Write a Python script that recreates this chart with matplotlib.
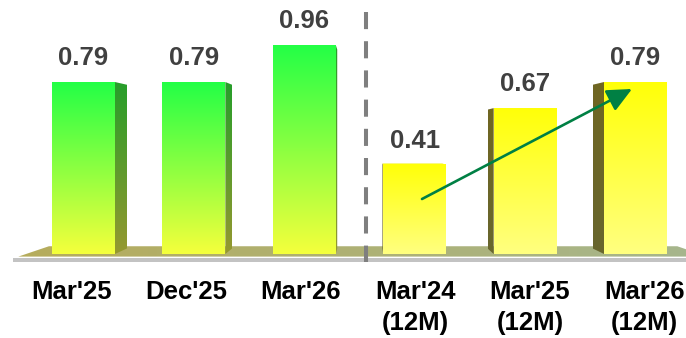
import numpy as np
import matplotlib
matplotlib.use('Agg')
import matplotlib.pyplot as plt
from matplotlib.patches import Polygon, Rectangle

# ---------------- data ----------------
categories = ["Mar'25", "Dec'25", "Mar'26", "Mar'24\n(12M)", "Mar'25\n(12M)", "Mar'26\n(12M)"]
values = [0.79, 0.79, 0.96, 0.41, 0.67, 0.79]
value_labels = ["0.79", "0.79", "0.96", "0.41", "0.67", "0.79"]
groups = ["quarter", "quarter", "quarter", "annual", "annual", "annual"]

# ---------------- style ----------------
FONT = ['Liberation Sans', 'DejaVu Sans']
FS = 18.5
front_cols = {"quarter": ((35, 255, 70), (245, 255, 60)),
              "annual": ((255, 255, 8), (255, 255, 128))}
side_cols = {"quarter": ((38, 158, 42), (150, 152, 48)),
             "annual": ((112, 102, 34), (104, 102, 46))}
floor_cols = ((182, 172, 92), (166, 182, 142))

BAR_W = 0.57          # front face width (category units)
DEPTH = 0.048         # perspective depth of bars
FLOOR_DEPTH = 0.088
VP = (2.56, 0.528)    # vanishing point (data coords)
SEP_X = 2.56          # separator between groups
LINE_STEP = 31 / 217.7

fig = plt.figure(figsize=(6.86, 3.38), dpi=100)
ax = fig.add_axes([0, 0, 1, 1])
ax.set_xlim(-0.756, 5.457)
ax.set_ylim(-0.386, 1.1668)
ax.axis('off')


def rgb(c):
    return np.array(c, dtype=float) / 255.0


def vgrad(c_top, c_bot, n=256):
    t = np.linspace(0, 1, n)[:, None]
    c = (1 - t) * rgb(c_top) + t * rgb(c_bot)
    return c[:, None, :]


def hgrad(c_l, c_r, n=256):
    t = np.linspace(0, 1, n)[None, :]
    c = (1 - t.T) * rgb(c_l) + t.T * rgb(c_r)
    return c[None, :, :]


def toward_vp(x, y, f):
    return x + f * (VP[0] - x), y + f * (VP[1] - y)


def fill_poly(pts, img, z):
    pts = np.array(pts)
    patch = Polygon(pts, closed=True, transform=ax.transData,
                    facecolor='none', edgecolor='none')
    ax.add_patch(patch)
    ext = [pts[:, 0].min(), pts[:, 0].max(), pts[:, 1].min(), pts[:, 1].max()]
    im = ax.imshow(img, extent=ext, origin='upper', aspect='auto',
                   interpolation='bilinear', zorder=z)
    im.set_clip_path(patch)
    return im


x = np.arange(len(values))

# ---------------- floor ----------------
fy = -0.012
fl_x0, fl_x1 = -0.59, 5.65
back_l = toward_vp(fl_x0, fy, FLOOR_DEPTH)
back_r = toward_vp(fl_x1, fy, FLOOR_DEPTH)
fill_poly([(fl_x0, fy), (fl_x1, fy), back_r, back_l],
          hgrad(*floor_cols), 1)
ax.add_patch(Rectangle((fl_x0 - 0.05, -0.0365), fl_x1 - fl_x0 + 0.2, 0.0175,
                       facecolor='#c3c3c3', edgecolor='none', zorder=1))

# ---------------- bars ----------------
for xi, v, g, vl in zip(x, values, groups, value_labels):
    x0, x1 = xi - BAR_W / 2, xi + BAR_W / 2
    # side face (the one facing the vanishing point)
    ex = x1 if xi < VP[0] else x0
    bb = toward_vp(ex, 0, DEPTH)
    bt = toward_vp(ex, v, DEPTH)
    fill_poly([(ex, 0), bb, bt, (ex, v)], vgrad(*side_cols[g]), 2)
    # top face if visible
    if v < VP[1]:
        tl = toward_vp(x0, v, DEPTH)
        tr = toward_vp(x1, v, DEPTH)
        ax.add_patch(Polygon([(x0, v), (x1, v), tr, tl], closed=True,
                             facecolor=rgb(front_cols[g][0]) * 0.95,
                             edgecolor='none', zorder=2))
    # front face
    ax.imshow(vgrad(*front_cols[g]), extent=[x0, x1, 0, v], origin='upper',
              aspect='auto', interpolation='bilinear', zorder=3)
    # value label
    ax.text(xi, v + 0.078, vl, ha='center', va='baseline', fontsize=FS,
            fontweight='bold', color='#404040', family=FONT, zorder=5)

# ---------------- category labels ----------------
for xi, lab in zip(x, categories):
    lx = -0.104 + 1.037 * xi
    for k, line in enumerate(lab.split('\n')):
        ax.text(lx, -0.2067 - k * LINE_STEP, line, ha='center', va='baseline',
                fontsize=FS, fontweight='bold', color='black', family=FONT,
                zorder=5)

# ---------------- separator ----------------
ax.plot([SEP_X, SEP_X], [1.111, -0.037], color='#7f7f7f', lw=2.9,
        linestyle=(0, (4.25, 3.0)), solid_capstyle='butt',
        dash_capstyle='butt', zorder=4)

# ---------------- trend arrow ----------------
a_start = (x[3] + 0.066, values[3] * 0.616)
a_end = (x[5] - 0.032, values[5] - 0.032)
ax.annotate('', xy=a_end, xytext=a_start,
            arrowprops=dict(arrowstyle='-|>,head_length=0.75,head_width=0.35',
                            color='#008044', lw=1.9, mutation_scale=20,
                            shrinkA=0, shrinkB=0),
            zorder=6)

fig.savefig('out.png', dpi=100)
